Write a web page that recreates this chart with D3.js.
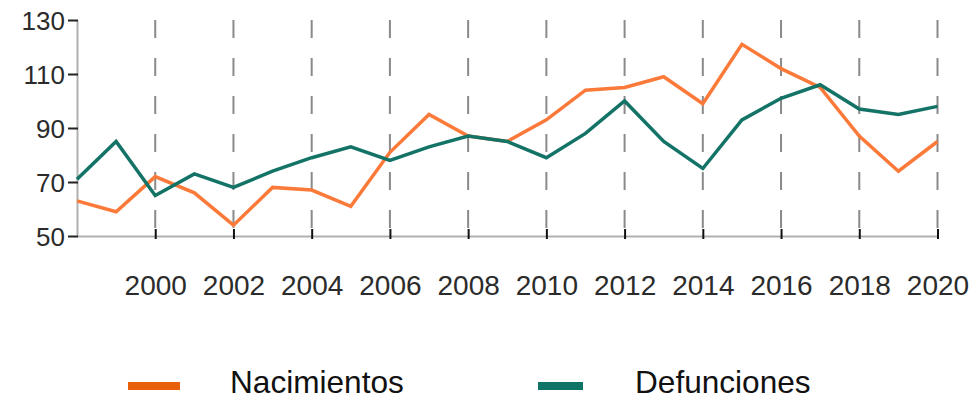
<!DOCTYPE html>
<html>
<head>
<meta charset="utf-8">
<script src="https://cdn.jsdelivr.net/npm/d3@7"></script>
<style>
  html, body { margin: 0; padding: 0; background: #fff; }
  svg { display: block; font-family: "Liberation Sans", Arial, sans-serif; }
</style>
</head>
<body>
<svg id="chart" width="979" height="402"></svg>
<script>
const years = [1998, 1999, 2000, 2001, 2002, 2003, 2004, 2005, 2006, 2007, 2008,
  2009, 2010, 2011, 2012, 2013, 2014, 2015, 2016, 2017, 2018, 2019, 2020];
const nacimientos = [63, 59, 72, 66, 54, 68, 67, 61, 81, 95, 87,
  85, 93, 104, 105, 109, 99, 121, 112, 105, 87, 74, 85];
const defunciones = [71, 85, 65, 73, 68, 74, 79, 83, 78, 83, 87,
  85, 79, 88, 100, 85, 75, 93, 101, 106, 97, 95, 98];
const xTicks = [2000, 2002, 2004, 2006, 2008, 2010, 2012, 2014, 2016, 2018, 2020];
const yTicks = [50, 70, 90, 110, 130];

const series = [
  { name: "Nacimientos", values: nacimientos, color: "#fb7a3a", key: "#e8600a" },
  { name: "Defunciones", values: defunciones, color: "#137367", key: "#0f7468" }
];

const svg = d3.select("#chart");

const x = d3.scaleLinear().domain([1998, 2020]).range([77, 937.5]);
const y = d3.scaleLinear().domain([50, 130]).range([236, 20]);

// dashed vertical grid at labelled years
svg.append("g")
  .selectAll("line")
  .data(xTicks)
  .join("line")
  .attr("x1", d => x(d)).attr("x2", d => x(d))
  .attr("y1", y(130)).attr("y2", y(50))
  .attr("stroke", "#8a8a8a")
  .attr("stroke-width", 2)
  .attr("stroke-dasharray", "18,20");

// x axis
const xAxis = svg.append("g")
  .attr("transform", `translate(0,${y(50)})`)
  .call(d3.axisBottom(x).tickValues(xTicks).tickFormat(d3.format("d")).tickSize(0).tickPadding(59));
xAxis.select(".domain").attr("stroke", "#b0b0b0").attr("stroke-width", 2);
xAxis.selectAll(".tick text")
  .attr("font-size", 28)
  .attr("fill", "#2b2b2b")
  .attr("dy", 0)
  .attr("font-family", "'Liberation Sans', Arial, sans-serif");
xAxis.selectAll(".tick").append("line")
  .attr("y1", -7).attr("y2", 3)
  .attr("stroke", "#111").attr("stroke-width", 2);

// y axis
const yAxis = svg.append("g")
  .attr("transform", `translate(${x(1998)},0)`)
  .call(d3.axisLeft(y).tickValues(yTicks).tickSize(0).tickPadding(12));
yAxis.select(".domain").attr("stroke", "#b0b0b0").attr("stroke-width", 2);
yAxis.selectAll(".tick text")
  .attr("font-size", 26)
  .attr("fill", "#2b2b2b")
  .attr("dy", "0.38em")
  .attr("font-family", "'Liberation Sans', Arial, sans-serif");
yAxis.selectAll(".tick").append("line")
  .attr("x1", -9).attr("x2", 1)
  .attr("stroke", "#222").attr("stroke-width", 2);

// lines
const line = d3.line()
  .x((d, i) => x(years[i]))
  .y(d => y(d));

svg.append("g")
  .selectAll("path")
  .data(series)
  .join("path")
  .attr("d", d => line(d.values))
  .attr("fill", "none")
  .attr("stroke", d => d.color)
  .attr("stroke-width", 3.5)
  .attr("stroke-linejoin", "miter");

// legend
const legendX = [128, 538];
const legend = svg.append("g")
  .selectAll("g")
  .data(series)
  .join("g")
  .attr("transform", (d, i) => `translate(${legendX[i]},386)`);

legend.append("rect")
  .attr("x", 0).attr("y", -4)
  .attr("width", (d, i) => i === 0 ? 52 : 45)
  .attr("height", 8)
  .attr("fill", d => d.key);

legend.append("text")
  .attr("x", (d, i) => i === 0 ? 102 : 97)
  .attr("y", 7)
  .attr("font-size", 31.6)
  .attr("fill", "#111")
  .text(d => d.name);
</script>
</body>
</html>
